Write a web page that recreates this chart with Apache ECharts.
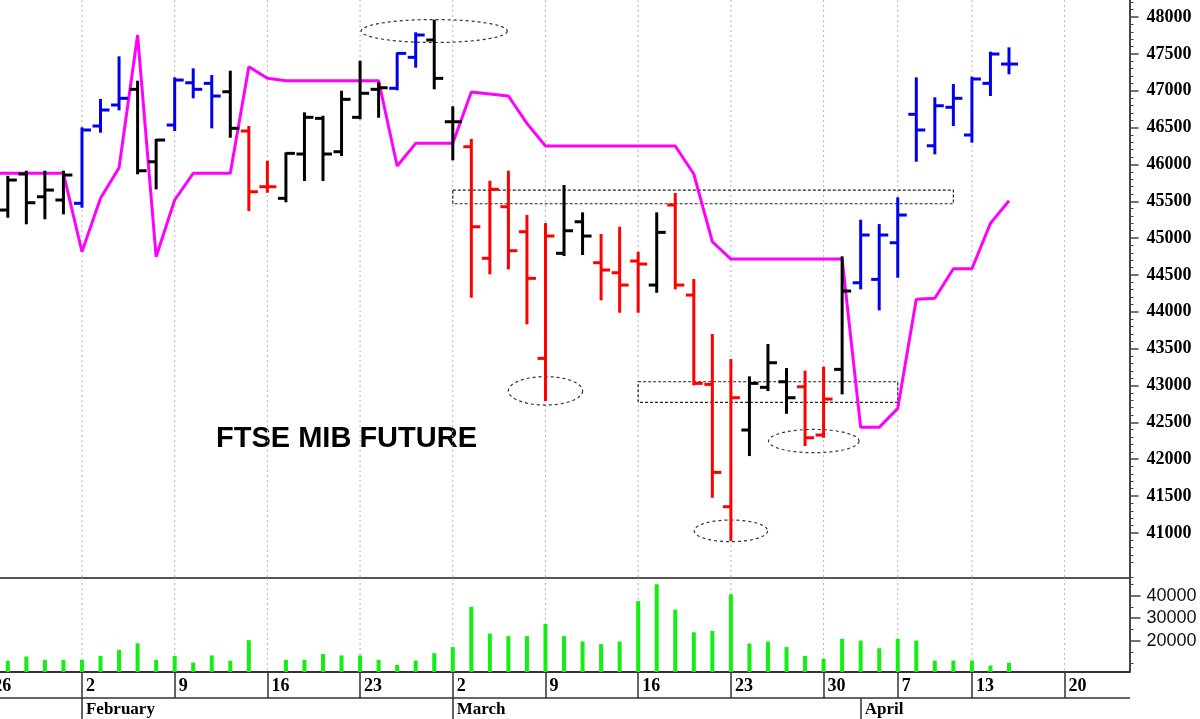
<!DOCTYPE html>
<html><head><meta charset="utf-8">
<script src="https://cdn.jsdelivr.net/npm/echarts@6/dist/echarts.min.js"></script>
<style>html,body{margin:0;padding:0;background:#fff;}#c{width:1200px;height:719px;}</style>
</head><body><div id="c"></div>
<script>
// ---------------- data ----------------
const dates = ['2026-01-26','2026-01-27','2026-01-28','2026-01-29','2026-01-30',
'2026-02-02','2026-02-03','2026-02-04','2026-02-05','2026-02-06',
'2026-02-09','2026-02-10','2026-02-11','2026-02-12','2026-02-13',
'2026-02-16','2026-02-17','2026-02-18','2026-02-19','2026-02-20',
'2026-02-23','2026-02-24','2026-02-25','2026-02-26','2026-02-27',
'2026-03-02','2026-03-03','2026-03-04','2026-03-05','2026-03-06',
'2026-03-09','2026-03-10','2026-03-11','2026-03-12','2026-03-13',
'2026-03-16','2026-03-17','2026-03-18','2026-03-19','2026-03-20',
'2026-03-23','2026-03-24','2026-03-25','2026-03-26','2026-03-27',
'2026-03-30','2026-03-31','2026-04-01','2026-04-02',
'2026-04-07','2026-04-08','2026-04-09','2026-04-10',
'2026-04-13','2026-04-14','2026-04-15','2026-04-16','2026-04-17',
'2026-04-20','2026-04-21','2026-04-22','2026-04-23'];

const weekStarts = ['2026-01-26','2026-02-02','2026-02-09','2026-02-16','2026-02-23','2026-03-02','2026-03-09','2026-03-16','2026-03-23','2026-03-30','2026-04-07','2026-04-13','2026-04-20'];
const weekLabels = ['26','2','9','16','23','2','9','16','23','30','7','13','20'];
const monthStarts = ['2026-02-02','2026-03-02','2026-04-01'];
const monthLabels = ['February','March','April'];

const opens  = [null,45381,45870,45561,45517,45472,46521,46806,47019,46036,46534,47108,47100,46986,46453,45697,45540,46141,46625,46172,46639,47019,47033,47453,47688,46579,46240,44726,45426,45087,43368,44794,45222,44666,44530,44689,44363,45449,44227,43015,41355,42396,42975,43051,42983,42328,43219,44394,44440,44937,46680,46253,46775,46399,47100,47362];
const highs  = [null,45833,45901,45901,45901,46490,46874,47453,47122,46331,47168,47290,47199,47258,46508,46036,46150,46693,46647,46986,47393,47100,47507,47779,47950,46775,46331,45765,45901,45300,45191,45707,45336,45042,45141,44801,45336,45598,44431,43685,43345,43111,43549,43223,43187,43241,44739,45236,45177,45540,47168,46897,47077,47177,47516,47575];
const lows   = [null,45290,45201,45269,45336,45426,46444,46747,45879,45675,46467,46910,46503,46376,45381,45629,45500,45788,45788,46127,46625,46647,47019,47326,47033,46069,44205,44522,44590,43844,42803,44770,44784,44169,44001,44001,44272,44318,43015,41490,40903,42056,42938,42630,42192,42305,42893,44318,44033,44476,46050,46150,46534,46308,46942,47236];
const closes = [null,45788,45480,45652,45856,46467,46738,46897,45914,46331,47145,47019,46928,46490,45629,45697,46150,46639,46141,46883,46965,47040,47507,47756,47168,46579,45154,45662,44829,44454,45028,45100,45028,44567,44363,44648,45078,44363,43029,41821,42834,43029,43309,42834,42291,42816,44282,45042,45042,45313,46467,46796,46897,47159,47498,47362];
// bar signal: b = bullish (blue), k = neutral (black), r = bearish (red)
const signal = ['k','k','k','k','k','b','b','b','k','k','b','b','b','k','r','r','k','k','k','k','k','k','b','b','k','k','r','r','r','r','r','k','k','r','r','r','k','r','r','r','r','k','k','k','r','r','k','b','b','b','b','b','b','b','b','b'];

const stopLine = [45879,45879,45879,45879,45879,44815,45540,45955,47756,44747,45517,45879,45879,45879,47326,47168,47136,47136,47136,47136,47136,47136,45978,46286,46286,46286,46982,46955,46928,46557,46250,46250,46250,46250,46250,46250,46250,46250,45870,44951,44716,44716,44716,44716,44716,44716,44716,42432,42432,42690,44169,44183,44585,44585,45200,45507];

const volume = [null,11000,12900,11400,11400,11400,13200,15900,18800,11400,13200,10200,13400,11000,20200,null,11400,11400,14000,13400,13400,11400,9200,11100,14400,17100,35100,23100,22000,22000,27400,22000,19600,18400,19600,37600,45100,33800,23700,24300,40600,18700,19600,17100,13200,11900,20800,20000,16600,20800,20000,11100,11100,11100,8900,10100];

const priceLabels = [41000,41500,42000,42500,43000,43500,44000,44500,45000,45500,46000,46500,47000,47500,48000];
const volumeLabels = [20000,30000,40000];
const volumeMinorTicks = [10000,15000,25000,35000,45000];

const title = 'FTSE MIB FUTURE';

// annotations (data coordinates: trading-day index, price)
const ellipseCentres = [[24, 47810],[30, 42928],[40, 41028],[44.47, 42246]];
const ellipseRadii   = [[3.94, 156],[2.0, 193],[1.98, 147],[2.44, 158]];
const zoneStart  = ['2026-03-02','2026-03-16'];
const zoneEnd    = ['2026-04-10','2026-04-07'];
const zoneTop    = [45652, 43051];
const zoneBottom = [45466, 42771];

// ---------------- chart ----------------
const weekSet = {}; weekStarts.forEach((d,i)=>weekSet[d]=weekLabels[i]);
const monthSet = {}; monthStarts.forEach((d,i)=>monthSet[d]=monthLabels[i]);
const isWeek = (i, v) => weekSet[v] !== undefined;
const isMonth = (i, v) => monthSet[v] !== undefined;

const priceMin = 40388, priceMax = 48231;
const priceMinor = [];
for (let v = 40400; v <= 48200; v += 100) if (v % 500 !== 0) priceMinor.push(v);

const colours = {b:'#0000ee', k:'#000000', r:'#ff0000'};

const ohlcData = [];
for (let i = 0; i < opens.length; i++) {
  if (opens[i] == null) continue;
  ohlcData.push([i, opens[i], highs[i], lows[i], closes[i]]);
}

function ohlcRender(params, api) {
  const idx = api.value(0);
  const pO = api.coord([idx, api.value(1)]);
  const pH = api.coord([idx, api.value(2)]);
  const pL = api.coord([idx, api.value(3)]);
  const pC = api.coord([idx, api.value(4)]);
  const col = colours[signal[idx]];
  const mk = () => ({stroke: col, lineWidth: 3, lineCap: 'butt'});
  const x = pH[0];
  return {type: 'group', children: [
    {type: 'line', shape: {x1: x, y1: pH[1] - 1, x2: x, y2: pL[1] + 1}, style: mk()},
    {type: 'line', shape: {x1: x - 8, y1: pO[1], x2: x, y2: pO[1]}, style: mk()},
    {type: 'line', shape: {x1: x, y1: pC[1], x2: x + 9, y2: pC[1]}, style: mk()}
  ]};
}

function gridRender(params, api) {
  const cs = params.coordSys;
  const x = api.coord([api.value(0), api.value(1)])[0];
  return {type: 'line', silent: true,
    shape: {x1: x, y1: cs.y, x2: x, y2: cs.y + cs.height},
    style: {stroke: '#b4b4b4', lineWidth: 1, lineDash: [2, 3]}};
}

const ellipseData = ellipseCentres.map((c, i) => [c[0], c[1], ellipseRadii[i][0], ellipseRadii[i][1]]);
function ellipseRender(params, api) {
  const ci = api.value(0), cp = api.value(1), rd = api.value(2), rp = api.value(3);
  const fl = Math.floor(ci);
  const bw = api.size([1, 0])[0];
  const base = api.coord([fl, cp]);
  const cx = base[0] + (ci - fl) * bw, cy = base[1];
  const ry = Math.abs(api.coord([fl, cp + rp])[1] - cy);
  const rx = rd * bw;
  const pts = [];
  for (let k = 0; k < 90; k++) {
    const a = k / 90 * Math.PI * 2;
    pts.push([cx + rx * Math.cos(a), cy + ry * Math.sin(a)]);
  }
  return {type: 'polygon', silent: true, shape: {points: pts},
    style: {fill: 'none', stroke: '#333', lineWidth: 1.2, lineDash: [3, 3]}};
}

const zoneData = zoneStart.map((s, i) => [dates.indexOf(s), zoneTop[i], dates.indexOf(zoneEnd[i]), zoneBottom[i]]);
function zoneRender(params, api) {
  const p1 = api.coord([api.value(0), api.value(1)]);
  const p2 = api.coord([api.value(2), api.value(3)]);
  return {type: 'rect', silent: true,
    shape: {x: p1[0], y: p1[1], width: p2[0] - p1[0], height: p2[1] - p1[1]},
    style: {fill: 'none', stroke: '#222', lineWidth: 1.2, lineDash: [3, 2]}};
}

const gridIdx = weekStarts.map(d => [dates.indexOf(d), 0]);

const serifBold = {fontFamily: 'Liberation Serif', fontWeight: 'bold', color: '#000'};
const plain = v => String(v);

const option = {
  animation: false,
  backgroundColor: '#fff',
  grid: [
    {left: -20, right: 70.5, top: 0, height: 578, containLabel: false, outerBoundsMode: 'none'},
    {left: -20, right: 70.5, top: 578, height: 94, containLabel: false, outerBoundsMode: 'none'}
  ],
  xAxis: [
    {type: 'category', gridIndex: 0, data: dates, boundaryGap: true,
     axisLine: {show: true, onZero: false, lineStyle: {color: '#555', width: 2}},
     axisTick: {show: false}, axisLabel: {show: false}, splitLine: {show: false}},
    {type: 'category', gridIndex: 1, data: dates, boundaryGap: true,
     axisLine: {show: true, onZero: false, lineStyle: {color: '#333', width: 2}},
     axisTick: {show: true, alignWithLabel: true, interval: isWeek, length: 26, lineStyle: {color: '#333', width: 1.5}},
     axisLabel: Object.assign({interval: isWeek, formatter: v => weekSet[v], align: 'left', padding: [0, 0, 0, 4], margin: 5, fontSize: 18}, serifBold),
     splitLine: {show: false}},
    {type: 'category', gridIndex: 1, data: dates, boundaryGap: true, position: 'bottom', offset: 26,
     axisLine: {show: true, onZero: false, lineStyle: {color: '#333', width: 1.5}},
     axisTick: {show: true, alignWithLabel: true, interval: isMonth, length: 21, lineStyle: {color: '#333', width: 1.5}},
     axisLabel: Object.assign({interval: isMonth, formatter: v => monthSet[v], align: 'left', padding: [0, 0, 0, 4], margin: 3, fontSize: 17}, serifBold),
     splitLine: {show: false}}
  ],
  yAxis: [
    {type: 'value', gridIndex: 0, position: 'right', min: priceMin, max: priceMax, scale: true,
     axisLine: {show: true, lineStyle: {color: '#444', width: 2}},
     axisTick: {show: true, length: 9, customValues: priceLabels, lineStyle: {color: '#444', width: 1.5}},
     axisLabel: Object.assign({customValues: priceLabels, formatter: plain, margin: 17, fontSize: 18}, serifBold),
     splitLine: {show: false}},
    {type: 'value', gridIndex: 0, position: 'right', min: priceMin, max: priceMax, scale: true,
     axisLine: {show: false},
     axisTick: {show: true, length: 4, customValues: priceMinor, lineStyle: {color: '#444', width: 1}},
     axisLabel: {show: false}, splitLine: {show: false}},
    {type: 'value', gridIndex: 1, position: 'right', min: 6000, max: 47900,
     axisLine: {show: true, lineStyle: {color: '#444', width: 2}},
     axisTick: {show: true, length: 11, customValues: volumeLabels, lineStyle: {color: '#444', width: 1.5}},
     axisLabel: {customValues: volumeLabels, formatter: plain, margin: 17, fontSize: 18, fontFamily: 'Liberation Sans', color: '#111'},
     splitLine: {show: false}},
    {type: 'value', gridIndex: 1, position: 'right', min: 6000, max: 47900,
     axisLine: {show: false},
     axisTick: {show: true, length: 4, customValues: volumeMinorTicks, lineStyle: {color: '#444', width: 1}},
     axisLabel: {show: false}, splitLine: {show: false}}
  ],
  graphic: [
    {type: 'text', x: 216, y: 439, silent: true,
     style: {text: title, font: 'bold 29px "Liberation Sans"', fill: '#000', textVerticalAlign: 'middle'}}
  ],
  series: [
    {type: 'custom', name: 'gridP', xAxisIndex: 0, yAxisIndex: 0, data: gridIdx, renderItem: gridRender, z: 1, silent: true},
    {type: 'custom', name: 'gridV', xAxisIndex: 1, yAxisIndex: 2, data: gridIdx, renderItem: gridRender, z: 1, silent: true},
    {type: 'custom', name: 'zones', xAxisIndex: 0, yAxisIndex: 0, data: zoneData, renderItem: zoneRender, z: 2, silent: true,
     encode: {x: [0, 2], y: [1, 3]}},
    {type: 'custom', name: 'ellipses', xAxisIndex: 0, yAxisIndex: 0, data: ellipseData, renderItem: ellipseRender, z: 2, silent: true,
     encode: {x: 0, y: 1}},
    {type: 'line', name: 'stop', xAxisIndex: 0, yAxisIndex: 0, data: stopLine, showSymbol: false, symbol: 'none', z: 3,
     lineStyle: {color: '#ff00ff', width: 3}},
    {type: 'custom', name: 'ohlc', xAxisIndex: 0, yAxisIndex: 0, data: ohlcData, renderItem: ohlcRender, z: 4,
     encode: {x: 0, y: [1, 2, 3, 4]}},
    {type: 'bar', name: 'volume', xAxisIndex: 1, yAxisIndex: 2, data: volume, barWidth: 4,
     itemStyle: {color: '#14ee14'}, z: 3}
  ]
};

const chart = echarts.init(document.getElementById('c'), null, {renderer: 'canvas'});
chart.setOption(option);
</script>
</body></html>
